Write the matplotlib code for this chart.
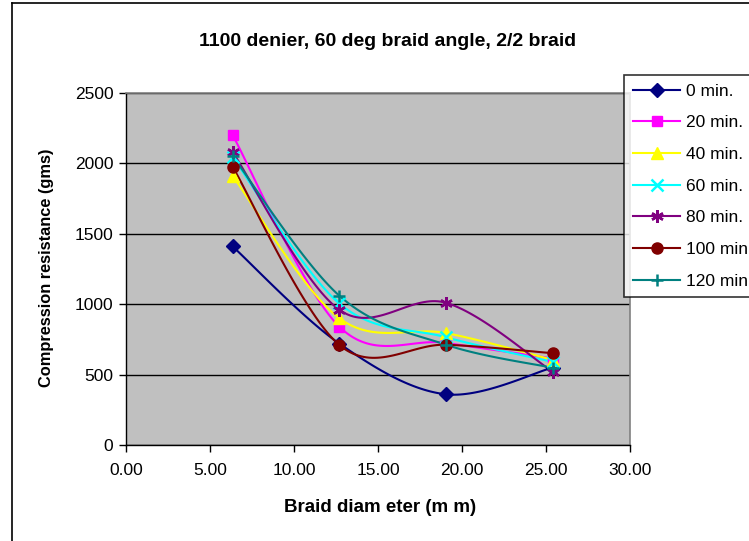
import numpy as np
import matplotlib
matplotlib.use("Agg")
import matplotlib.pyplot as plt
from matplotlib.lines import Line2D

plt.rcParams['font.family'] = ['Liberation Sans', 'DejaVu Sans']

diameters = [6.35, 12.70, 19.05, 25.40]
series_labels = ["0 min.", "20 min.", "40 min.", "60 min.", "80 min.", "100 min.", "120 min."]
s0 = [1410, 720, 360, 550]
s20 = [2200, 840, 725, 615]
s40 = [1910, 900, 795, 605]
s60 = [2045, 1005, 765, 590]
s80 = [2080, 960, 1010, 520]
s100 = [1975, 710, 712, 652]
s120 = [2050, 1060, 712, 548]
series = [s0, s20, s40, s60, s80, s100, s120]

colors = ["#000080", "#FF00FF", "#FFFF00", "#00FFFF", "#800080", "#800000", "#008080"]
markers = ["D", "s", "^", "x", (6, 2, 0), "o", "+"]
msizes = [7, 7.5, 8, 8, 9, 8, 9]

def smooth(x, y, n=40):
    x = np.asarray(x, float); y = np.asarray(y, float)
    P = np.column_stack([x, y])
    Pe = np.vstack([P[0], P, P[-1]])
    out = []
    t = np.linspace(0, 1, n)[:, None]
    for i in range(len(P) - 1):
        p0, p1, p2, p3 = Pe[i], Pe[i + 1], Pe[i + 2], Pe[i + 3]
        c1 = p1 + (p2 - p0) / 6.0
        c2 = p2 - (p3 - p1) / 6.0
        seg = ((1 - t) ** 3) * p1 + 3 * ((1 - t) ** 2) * t * c1 + 3 * (1 - t) * t ** 2 * c2 + t ** 3 * p2
        out.append(seg if i == 0 else seg[1:])
    out = np.vstack(out)
    return out[:, 0], out[:, 1]

W, H = 749, 541
fig = plt.figure(figsize=(W / 100, H / 100), dpi=100)
fig.patch.set_facecolor("white")

# outer chart border (left and top)
fig.add_artist(Line2D([12 / W, 12 / W], [0, 1 - 3 / H], color="black", lw=1.2, transform=fig.transFigure))
fig.add_artist(Line2D([12 / W, 1], [1 - 3 / H, 1 - 3 / H], color="black", lw=1.2, transform=fig.transFigure))

x0, x1, yt, yb = 126, 630, 93, 445
ax = fig.add_axes([x0 / W, 1 - yb / H, (x1 - x0) / W, (yb - yt) / H])
ax.set_facecolor("#C0C0C0")
ax.set_xlim(0, 30)
ax.set_ylim(0, 2500)
ax.set_xticks(np.arange(0, 30.1, 5))
ax.set_xticklabels([f"{v:.2f}" for v in np.arange(0, 30.1, 5)])
ax.set_yticks(np.arange(0, 2501, 500))
ax.yaxis.grid(True, color="black", lw=1)
ax.set_axisbelow(True)
for side in ["top", "right"]:
    ax.spines[side].set_color("#808080")
    ax.spines[side].set_linewidth(1.2)
for side in ["left", "bottom"]:
    ax.spines[side].set_color("black")
    ax.spines[side].set_linewidth(1)
ax.tick_params(axis="both", direction="out", length=5, width=1, labelsize=12.5, colors="black", pad=4)
ax.tick_params(axis="x", pad=8)

handles = []
for vals, lab, c, m, ms in zip(series, series_labels, colors, markers, msizes):
    sx, sy = smooth(diameters, vals)
    ax.plot(sx, sy, color=c, lw=1.5, zorder=3)
    mew = 1.8 if m in ("x", "+", (6, 2, 0)) else 1
    ax.plot(diameters, vals, linestyle="none", marker=m, color=c, ms=ms, mew=mew,
            mec=c, mfc=c, zorder=4)
    handles.append(Line2D([], [], color=c, lw=1.5, marker=m, ms=ms, mec=c, mfc=c, mew=mew))

leg = fig.legend(handles, series_labels, loc="upper left", bbox_to_anchor=(624 / W, 1 - 75 / H),
                 bbox_transform=fig.transFigure, fontsize=12.5, frameon=True, fancybox=False,
                 edgecolor="black", handlelength=2.75, handletextpad=0.35, labelspacing=0.95,
                 borderpad=0.5, borderaxespad=0)
leg.get_frame().set_linewidth(1.2)

fig.text(388 / W, 1 - 42 / H, "1100 denier, 60 deg braid angle, 2/2 braid", ha="center", va="center",
         fontsize=14, fontweight="bold")
fig.text(380 / W, 1 - 507 / H, "Braid diam eter (m m)", ha="center", va="center", fontsize=13.5,
         fontweight="bold")
fig.text(47 / W, 1 - 268 / H, "Compression resistance (gms)", ha="center", va="center", rotation=90,
         fontsize=11.8, fontweight="bold")

fig.savefig("out.png", dpi=100)
